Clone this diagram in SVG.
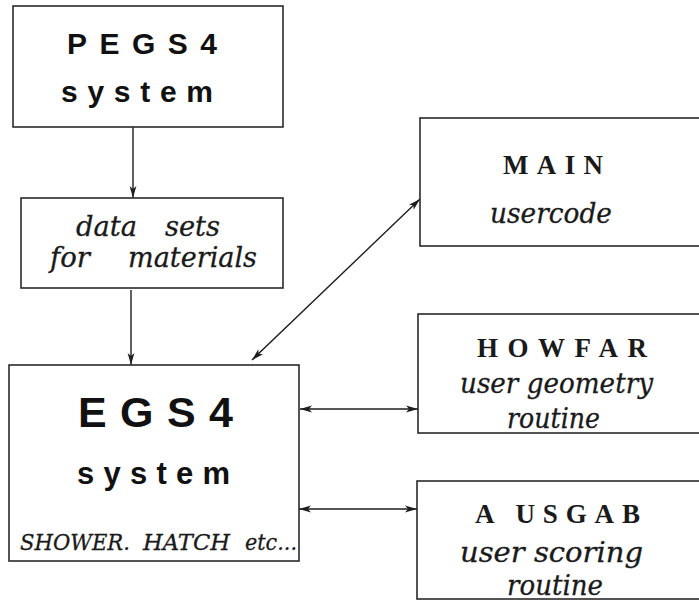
<svg xmlns="http://www.w3.org/2000/svg" width="699" height="602" viewBox="0 0 699 602">
  <style>
    .box { fill: #ffffff; stroke: #2a2a2a; stroke-width: 1.6; }
    .link { fill: none; stroke: #1e1e1e; stroke-width: 1.4; }
    .head { font-family: "Liberation Sans", Arial, sans-serif; font-weight: bold; fill: #111; }
    .name { font-family: "Liberation Serif", "Times New Roman", serif; font-weight: bold; fill: #1a1a1a; font-size: 27px; }
    .note { font-family: "DejaVu Serif", "Liberation Serif", serif; font-style: italic; fill: #1a1a1a; font-size: 27px; stroke: #1a1a1a; stroke-width: 0.3; }
    .small { font-size: 23px; }
  </style>
  <defs>
    <marker id="tip" viewBox="0 0 12 8" refX="12" refY="4" markerWidth="12" markerHeight="8" markerUnits="userSpaceOnUse" orient="auto-start-reverse">
      <path d="M0,0.6 L12,4 L0,7.4 L3,4 z" fill="#1e1e1e"/>
    </marker>
  </defs>
  <rect width="699" height="602" fill="#ffffff"/>

  <g id="connectors">
    <line class="link" x1="133" y1="127" x2="133" y2="198" marker-end="url(#tip)"/>
    <line class="link" x1="131" y1="290" x2="131" y2="365" marker-end="url(#tip)"/>
    <line class="link" x1="252" y1="360" x2="420" y2="199" marker-start="url(#tip)" marker-end="url(#tip)"/>
    <line class="link" x1="300" y1="409" x2="418" y2="409" marker-start="url(#tip)" marker-end="url(#tip)"/>
    <line class="link" x1="299" y1="509" x2="417" y2="509" marker-start="url(#tip)" marker-end="url(#tip)"/>
  </g>

  <g id="pegs4">
    <rect class="box" x="13" y="6" width="270" height="121"/>
    <text class="head" x="67" y="54" font-size="30" textLength="150" lengthAdjust="spacing">PEGS4</text>
    <text class="head" x="61" y="102" font-size="30" textLength="152" lengthAdjust="spacing">system</text>
  </g>

  <g id="datasets">
    <rect class="box" x="21" y="198" width="262" height="90"/>
    <text class="note" x="76" y="236" textLength="61" lengthAdjust="spacingAndGlyphs">data</text>
    <text class="note" x="165" y="236" textLength="55" lengthAdjust="spacingAndGlyphs">sets</text>
    <text class="note" x="50" y="267" textLength="40" lengthAdjust="spacingAndGlyphs">for</text>
    <text class="note" x="128" y="267" textLength="129" lengthAdjust="spacingAndGlyphs">materials</text>
  </g>

  <g id="egs4">
    <rect class="box" x="9" y="365" width="290" height="196"/>
    <text class="head" x="78" y="427" font-size="43" textLength="155" lengthAdjust="spacing">EGS4</text>
    <text class="head" x="77" y="484" font-size="31" textLength="153" lengthAdjust="spacing">system</text>
    <text class="note small" x="20" y="550" textLength="110" lengthAdjust="spacingAndGlyphs">SHOWER.</text>
    <text class="note small" x="143" y="550" textLength="87" lengthAdjust="spacingAndGlyphs">HATCH</text>
    <text class="note small" x="245" y="550" textLength="52" lengthAdjust="spacingAndGlyphs">etc...</text>
  </g>

  <g id="main">
    <rect class="box" x="420" y="118" width="290" height="128"/>
    <text class="name" x="503" y="174" textLength="100" lengthAdjust="spacing">MAIN</text>
    <text class="note" x="490" y="223" textLength="122" lengthAdjust="spacingAndGlyphs">usercode</text>
  </g>

  <g id="howfar">
    <rect class="box" x="418" y="314" width="292" height="119"/>
    <text class="name" x="477" y="357" textLength="170" lengthAdjust="spacing">HOWFAR</text>
    <text class="note" x="460" y="393" textLength="193" lengthAdjust="spacingAndGlyphs">user geometry</text>
    <text class="note" x="507" y="428" textLength="93" lengthAdjust="spacingAndGlyphs">routine</text>
  </g>

  <g id="ausgab">
    <rect class="box" x="417" y="481" width="293" height="118"/>
    <text class="name" x="475" y="523" textLength="165" lengthAdjust="spacing">A USGAB</text>
    <text class="note" x="460" y="562" textLength="183" lengthAdjust="spacingAndGlyphs">user scoring</text>
    <text class="note" x="507" y="595" textLength="96" lengthAdjust="spacingAndGlyphs">routine</text>
  </g>
</svg>
